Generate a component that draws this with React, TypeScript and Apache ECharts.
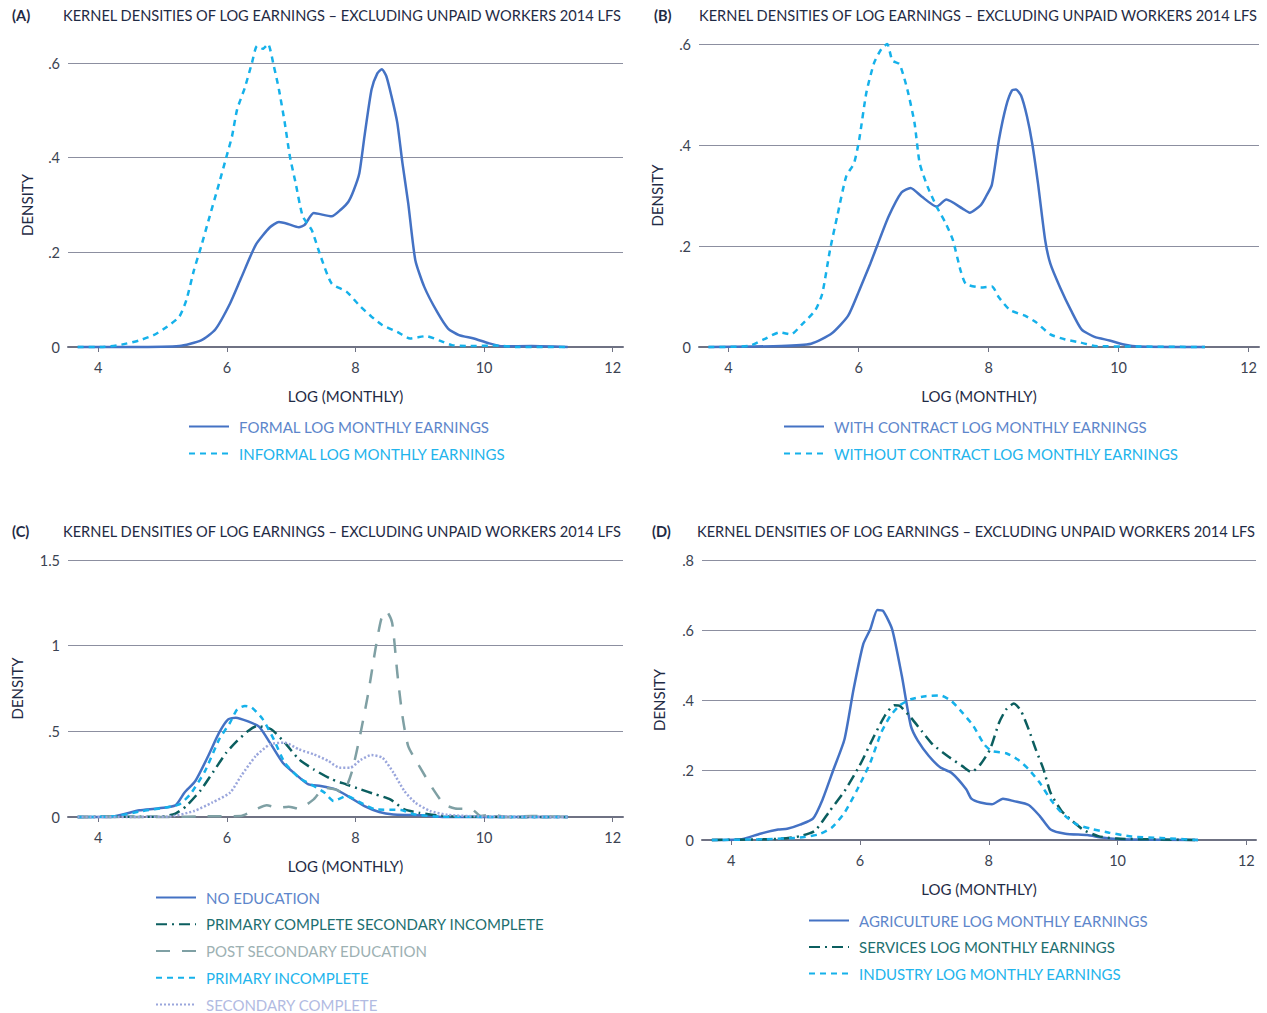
import React, { useEffect, useRef } from "react";
import * as echarts from "echarts";

type P = [number, number][];

// ---------- DATA ----------
const xTicks = [4, 6, 8, 10, 12];

const panelTitles = [
  "KERNEL DENSITIES OF LOG EARNINGS – EXCLUDING UNPAID WORKERS 2014 LFS",
  "KERNEL DENSITIES OF LOG EARNINGS – EXCLUDING UNPAID WORKERS 2014 LFS",
  "KERNEL DENSITIES OF LOG EARNINGS – EXCLUDING UNPAID WORKERS 2014 LFS",
  "KERNEL DENSITIES OF LOG EARNINGS – EXCLUDING UNPAID WORKERS 2014 LFS",
];
const panelLetters = ["(A)", "(B)", "(C)", "(D)"];
const xAxisName = "LOG (MONTHLY)";
const yAxisName = "DENSITY";

// Panel A
const formal: P = [
  [3.68, 0], [4.5, 0], [5.26, 0.002], [5.6, 0.014], [5.82, 0.037], [6.05, 0.092], [6.22, 0.145],
  [6.45, 0.216], [6.67, 0.253], [6.81, 0.264], [6.95, 0.26], [7.12, 0.253], [7.21, 0.258],
  [7.35, 0.283], [7.63, 0.276], [7.77, 0.29], [7.89, 0.307], [7.97, 0.33], [8.06, 0.367],
  [8.14, 0.445], [8.25, 0.544], [8.34, 0.578], [8.41, 0.587], [8.48, 0.572], [8.56, 0.53],
  [8.65, 0.474], [8.73, 0.389], [8.82, 0.304], [8.93, 0.184], [9.07, 0.127], [9.27, 0.074],
  [9.44, 0.039], [9.61, 0.025], [9.84, 0.018], [10.06, 0.0085], [10.29, 0.0014], [10.74, 0.002],
  [11.3, 0],
];
const informal: P = [
  [3.68, 0], [4.07, 0], [4.36, 0.005], [4.64, 0.014], [4.86, 0.025], [5.03, 0.039], [5.26, 0.064],
  [5.37, 0.099], [5.49, 0.163], [5.6, 0.212], [5.71, 0.265], [5.88, 0.346], [5.99, 0.4],
  [6.08, 0.445], [6.16, 0.502], [6.28, 0.548], [6.39, 0.6], [6.47, 0.636], [6.56, 0.63],
  [6.64, 0.64], [6.73, 0.594], [6.81, 0.544], [6.9, 0.474], [6.98, 0.403], [7.07, 0.346],
  [7.18, 0.276], [7.32, 0.247], [7.46, 0.191], [7.63, 0.134], [7.86, 0.117], [8.08, 0.085],
  [8.25, 0.064], [8.42, 0.046], [8.65, 0.032], [8.85, 0.018], [9.1, 0.023], [9.3, 0.014],
  [9.5, 0.004], [9.78, 0.002], [10.17, 0.003], [10.51, 0], [11.3, 0],
];

// Panel B
const withContract: P = [
  [3.69, 0], [4.81, 0.002], [5.27, 0.0066], [5.59, 0.027], [5.84, 0.062], [6.01, 0.112],
  [6.18, 0.165], [6.29, 0.202], [6.46, 0.258], [6.66, 0.306], [6.8, 0.315], [6.97, 0.298],
  [7.2, 0.278], [7.35, 0.292], [7.6, 0.274], [7.71, 0.266], [7.88, 0.281], [7.96, 0.298],
  [8.05, 0.321], [8.16, 0.411], [8.27, 0.477], [8.36, 0.508], [8.42, 0.51], [8.5, 0.498],
  [8.59, 0.457], [8.67, 0.404], [8.76, 0.324], [8.87, 0.212], [8.95, 0.165], [9.1, 0.118],
  [9.27, 0.072], [9.43, 0.035], [9.63, 0.02], [9.86, 0.013], [10.08, 0.005], [10.31, 0.001],
  [11.33, 0],
];
const withoutContract: P = [
  [3.69, 0], [4.31, 0.002], [4.54, 0.015], [4.79, 0.029], [4.96, 0.025], [5.13, 0.045],
  [5.33, 0.072], [5.44, 0.105], [5.56, 0.192], [5.67, 0.258], [5.81, 0.338], [5.93, 0.364],
  [6.01, 0.411], [6.12, 0.504], [6.24, 0.563], [6.35, 0.59], [6.44, 0.6], [6.52, 0.567],
  [6.63, 0.56], [6.75, 0.51], [6.86, 0.444], [6.94, 0.364], [7.06, 0.318], [7.2, 0.278],
  [7.34, 0.245], [7.45, 0.212], [7.57, 0.151], [7.65, 0.125], [7.88, 0.118], [8.05, 0.12],
  [8.16, 0.098], [8.33, 0.073], [8.56, 0.062], [8.73, 0.049], [8.95, 0.025], [9.18, 0.015],
  [9.41, 0.009], [9.63, 0.002], [10.2, 0.001], [11.33, 0],
];

// Panel C
const noEducation: P = [
  [3.68, 0], [4.19, 0], [4.64, 0.039], [4.92, 0.05], [5.2, 0.068], [5.34, 0.142], [5.51, 0.21],
  [5.71, 0.356], [5.88, 0.492], [6.02, 0.57], [6.14, 0.58], [6.33, 0.558], [6.5, 0.527],
  [6.67, 0.434], [6.87, 0.317], [7.07, 0.249], [7.27, 0.19], [7.46, 0.181], [7.69, 0.161],
  [7.92, 0.113], [8.14, 0.064], [8.37, 0.029], [8.59, 0.014], [8.82, 0.012], [9.05, 0.01],
  [9.38, 0], [11.3, 0],
];
const primaryCompleteSecondaryIncomplete: P = [
  [3.68, 0], [4.53, 0.002], [4.98, 0.002], [5.2, 0.02], [5.37, 0.064], [5.6, 0.16], [5.8, 0.27],
  [5.99, 0.375], [6.16, 0.444], [6.33, 0.502], [6.47, 0.531], [6.69, 0.512], [6.9, 0.434],
  [7.12, 0.337], [7.35, 0.278], [7.63, 0.22], [7.86, 0.19], [8.08, 0.161], [8.31, 0.132],
  [8.54, 0.103], [8.76, 0.045], [8.99, 0.025], [9.27, 0.01], [9.61, 0.002], [11.3, 0],
];
const postSecondary: P = [
  [3.68, 0], [5.09, 0], [5.66, 0.004], [6.22, 0.006], [6.45, 0.045], [6.62, 0.068], [6.79, 0.054],
  [6.96, 0.06], [7.12, 0.049], [7.35, 0.103], [7.52, 0.171], [7.69, 0.161], [7.8, 0.142],
  [7.94, 0.259], [8.08, 0.492], [8.2, 0.726], [8.31, 0.979], [8.4, 1.154], [8.48, 1.202],
  [8.57, 1.134], [8.65, 0.842], [8.73, 0.59], [8.82, 0.414], [8.99, 0.298], [9.21, 0.161],
  [9.38, 0.074], [9.55, 0.05], [9.81, 0.045], [9.95, 0.006], [10.12, 0.016], [10.34, 0],
  [10.74, 0.006], [11.3, 0],
];
const primaryIncomplete: P = [
  [3.68, 0], [4.24, 0.004], [4.69, 0.035], [5.03, 0.054], [5.26, 0.074], [5.43, 0.132],
  [5.66, 0.268], [5.88, 0.453], [6.05, 0.551], [6.16, 0.628], [6.28, 0.648], [6.39, 0.638],
  [6.56, 0.57], [6.73, 0.453], [6.9, 0.317], [7.12, 0.23], [7.35, 0.181], [7.52, 0.142],
  [7.66, 0.093], [7.86, 0.123], [8.08, 0.084], [8.31, 0.045], [8.71, 0.041], [8.93, 0.014],
  [9.33, 0.002], [11.3, 0],
];
const secondaryComplete: P = [
  [3.68, 0], [5.09, 0.002], [5.49, 0.035], [5.77, 0.084], [6.05, 0.142], [6.22, 0.239],
  [6.45, 0.356], [6.67, 0.424], [6.9, 0.434], [7.12, 0.395], [7.35, 0.366], [7.58, 0.327],
  [7.75, 0.288], [7.92, 0.288], [8.08, 0.333], [8.25, 0.362], [8.42, 0.346], [8.59, 0.259],
  [8.76, 0.152], [8.93, 0.084], [9.16, 0.035], [9.44, 0.012], [9.89, 0.004], [11.3, 0],
];

// Panel D
const agriculture: P = [
  [3.7, 0], [4.16, 0.002], [4.45, 0.018], [4.73, 0.03], [4.87, 0.032], [5.07, 0.044],
  [5.27, 0.061], [5.42, 0.116], [5.59, 0.202], [5.76, 0.288], [5.9, 0.43], [6.05, 0.559],
  [6.16, 0.602], [6.27, 0.657], [6.36, 0.654], [6.5, 0.602], [6.65, 0.469], [6.79, 0.326],
  [6.9, 0.283], [7.07, 0.24], [7.25, 0.207], [7.42, 0.192], [7.65, 0.145], [7.73, 0.118],
  [7.87, 0.107], [8.05, 0.102], [8.22, 0.118], [8.39, 0.111], [8.62, 0.1], [8.79, 0.069],
  [8.96, 0.03], [9.19, 0.018], [9.53, 0.014], [9.76, 0.007], [10.05, 0.002], [11.25, 0],
];
const services: P = [
  [3.7, 0], [4.5, 0.002], [4.79, 0.004], [5.07, 0.011], [5.3, 0.026], [5.53, 0.083], [5.76, 0.14],
  [5.99, 0.211], [6.22, 0.297], [6.39, 0.356], [6.53, 0.385], [6.62, 0.383], [6.79, 0.35],
  [6.96, 0.311], [7.13, 0.273], [7.36, 0.24], [7.59, 0.211], [7.73, 0.194], [7.87, 0.216],
  [8.02, 0.259], [8.16, 0.335], [8.27, 0.373], [8.39, 0.39], [8.5, 0.369], [8.62, 0.316],
  [8.73, 0.259], [8.85, 0.202], [8.96, 0.135], [9.13, 0.083], [9.3, 0.054], [9.47, 0.029],
  [9.7, 0.011], [9.99, 0.004], [10.5, 0.002], [11.25, 0],
];
const industry: P = [
  [3.7, 0], [4.5, 0.002], [5.07, 0.007], [5.36, 0.016], [5.56, 0.035], [5.76, 0.078],
  [5.96, 0.145], [6.16, 0.221], [6.33, 0.307], [6.47, 0.354], [6.62, 0.385], [6.79, 0.402],
  [7.02, 0.411], [7.25, 0.413], [7.42, 0.397], [7.59, 0.364], [7.76, 0.326], [7.93, 0.273],
  [8.05, 0.254], [8.27, 0.248], [8.45, 0.23], [8.62, 0.202], [8.79, 0.164], [8.96, 0.116],
  [9.13, 0.078], [9.36, 0.045], [9.59, 0.032], [9.87, 0.021], [10.22, 0.01], [10.67, 0.006],
  [11.25, 0],
];

// ---------- STYLE ----------
const FONT = "Lato";
const NAVY = "#1f2b45";
const TICK = "#3b4352";
const GRIDC = "#8c8fa0";
const AXISC = "#6f7283";

const BLUE = "#4472c4";
const CYAN = "#15b1ea";
const TEAL = "#0b5e5f";
const GTEAL = "#7fa0a4";
const LAV = "#9aa6dc";

const BLUE_T = "#5d86cb";
const CYAN_T = "#22b4ec";
const TEAL_T = "#1d6f70";
const GTEAL_T = "#9db1b3";
const LAV_T = "#b2bbe2";

type SeriesDef = { name: string; data: P; color: string; textColor: string; dash: any };

const panels: {
  grid: { left: number; top: number; width: number; height: number };
  xmin: number; xmax: number; ymax: number; yint: number;
  yNameGap: number;
  legend: { left: number; top: number; gap: number };
  series: SeriesDef[];
  title: { letterX: number; textX: number; y: number };
}[] = [
  {
    grid: { left: 68, top: 63, width: 555, height: 284 },
    xmin: 3.53, xmax: 12.16, ymax: 0.6, yint: 0.2, yNameGap: 34,
    legend: { left: 188, top: 419, gap: 12 },
    title: { letterX: 12, textX: 63, y: 16 },
    series: [
      { name: "FORMAL LOG MONTHLY EARNINGS", data: formal, color: BLUE, textColor: BLUE_T, dash: "solid" },
      { name: "INFORMAL LOG MONTHLY EARNINGS", data: informal, color: CYAN, textColor: CYAN_T, dash: [6, 5] },
    ],
  },
  {
    grid: { left: 699, top: 44, width: 560, height: 303 },
    xmin: 3.545, xmax: 12.16, ymax: 0.6, yint: 0.2, yNameGap: 35,
    legend: { left: 783, top: 419, gap: 12 },
    title: { letterX: 654, textX: 699, y: 16 },
    series: [
      { name: "WITH CONTRACT LOG MONTHLY EARNINGS", data: withContract, color: BLUE, textColor: BLUE_T, dash: "solid" },
      { name: "WITHOUT CONTRACT LOG MONTHLY EARNINGS", data: withoutContract, color: CYAN, textColor: CYAN_T, dash: [6, 5] },
    ],
  },
  {
    grid: { left: 68, top: 560, width: 555, height: 257 },
    xmin: 3.53, xmax: 12.16, ymax: 1.5, yint: 0.5, yNameGap: 44,
    legend: { left: 155, top: 890, gap: 11.75 },
    title: { letterX: 12, textX: 63, y: 532 },
    series: [
      { name: "NO EDUCATION", data: noEducation, color: BLUE, textColor: BLUE_T, dash: "solid" },
      { name: "PRIMARY COMPLETE SECONDARY INCOMPLETE", data: primaryCompleteSecondaryIncomplete, color: TEAL, textColor: TEAL_T, dash: [11, 5, 2, 5] },
      { name: "POST SECONDARY EDUCATION", data: postSecondary, color: GTEAL, textColor: GTEAL_T, dash: [14, 12] },
      { name: "PRIMARY INCOMPLETE", data: primaryIncomplete, color: CYAN, textColor: CYAN_T, dash: [6, 5] },
      { name: "SECONDARY COMPLETE", data: secondaryComplete, color: LAV, textColor: LAV_T, dash: [2, 2] },
    ],
  },
  {
    grid: { left: 702, top: 560, width: 554, height: 280 },
    xmin: 3.547, xmax: 12.15, ymax: 0.8, yint: 0.2, yNameGap: 36,
    legend: { left: 808, top: 913, gap: 11.5 },
    title: { letterX: 652, textX: 697, y: 532 },
    series: [
      { name: "AGRICULTURE LOG MONTHLY EARNINGS", data: agriculture, color: BLUE, textColor: BLUE_T, dash: "solid" },
      { name: "SERVICES LOG MONTHLY EARNINGS", data: services, color: TEAL, textColor: TEAL_T, dash: [11, 5, 2, 5] },
      { name: "INDUSTRY LOG MONTHLY EARNINGS", data: industry, color: CYAN, textColor: CYAN_T, dash: [6, 5] },
    ],
  },
];

const fmtY = (v: number) => {
  const n = Number(v.toFixed(2));
  if (n === 0) return "0";
  return String(n).replace(/^0\./, ".");
};

export default function App() {
  const ref = useRef<HTMLDivElement>(null);
  useEffect(() => {
    if (!ref.current) return;
    const chart = echarts.init(ref.current, undefined, { renderer: "svg" });

    const grid: any[] = [];
    const xAxis: any[] = [];
    const yAxis: any[] = [];
    const series: any[] = [];
    const legend: any[] = [];
    const graphic: any[] = [];

    panels.forEach((p, i) => {
      grid.push({ ...p.grid, containLabel: false });
      xAxis.push({
        type: "value",
        gridIndex: i,
        min: p.xmin,
        max: p.xmax,
        name: xAxisName,
        nameLocation: "middle",
        nameGap: 41,
        nameTextStyle: { fontFamily: FONT, fontSize: 15, color: NAVY },
        axisLine: { show: true, onZero: false, lineStyle: { color: AXISC, width: 2 } },
        axisTick: { show: true, length: 5, customValues: xTicks, lineStyle: { color: AXISC, width: 1 } },
        axisLabel: { customValues: xTicks, margin: 13, fontFamily: FONT, fontSize: 14.5, color: TICK },
        splitLine: { show: false },
      });
      yAxis.push({
        type: "value",
        gridIndex: i,
        min: 0,
        max: p.ymax,
        interval: p.yint,
        name: yAxisName,
        nameLocation: "middle",
        nameRotate: 90,
        nameGap: p.yNameGap,
        nameTextStyle: { fontFamily: FONT, fontSize: 15, color: NAVY },
        axisLine: { show: false },
        axisTick: { show: false },
        axisLabel: { formatter: fmtY, margin: 8, fontFamily: FONT, fontSize: 14.5, color: TICK },
        splitLine: { show: true, lineStyle: { color: GRIDC, width: 1 } },
      });
      p.series.forEach((s) => {
        series.push({
          type: "line",
          name: s.name,
          xAxisIndex: i,
          yAxisIndex: i,
          data: s.data,
          symbol: "none",
          showSymbol: false,
          smooth: 0.2,
          clip: false,
          color: s.color,
          itemStyle: { opacity: 0 },
          lineStyle: { color: s.color, width: 2.5, type: s.dash },
          z: 3,
        });
      });
      legend.push({
        orient: "vertical",
        left: p.legend.left,
        top: p.legend.top,
        itemWidth: 40,
        itemHeight: 15,
        itemGap: p.legend.gap,
        selectedMode: false,
        padding: 0,
        itemStyle: { opacity: 0 },
        data: p.series.map((s) => ({
          name: s.name,
          textStyle: { color: s.textColor },
        })),
        textStyle: { fontFamily: FONT, fontSize: 15, lineHeight: 15, padding: [0, 0, 0, 5] },
      });
      graphic.push({
        type: "text",
        left: p.title.letterX,
        top: p.title.y - 8,
        style: { text: panelLetters[i], fontFamily: FONT, fontSize: 14.6, fontWeight: "bold", fill: NAVY },
      });
      graphic.push({
        type: "text",
        left: p.title.textX,
        top: p.title.y - 8,
        style: { text: panelTitles[i], fontFamily: FONT, fontSize: 14.6, fill: NAVY },
      });
    });

    chart.setOption({
      animation: false,
      backgroundColor: "#ffffff",
      textStyle: { fontFamily: FONT },
      grid,
      xAxis,
      yAxis,
      series,
      legend,
      graphic,
    });
    return () => chart.dispose();
  }, []);
  return (
    <div
      ref={ref}
      style={{ position: "fixed", left: 0, top: 0, width: 1267, height: 1013, background: "#fff" }}
    />
  );
}
